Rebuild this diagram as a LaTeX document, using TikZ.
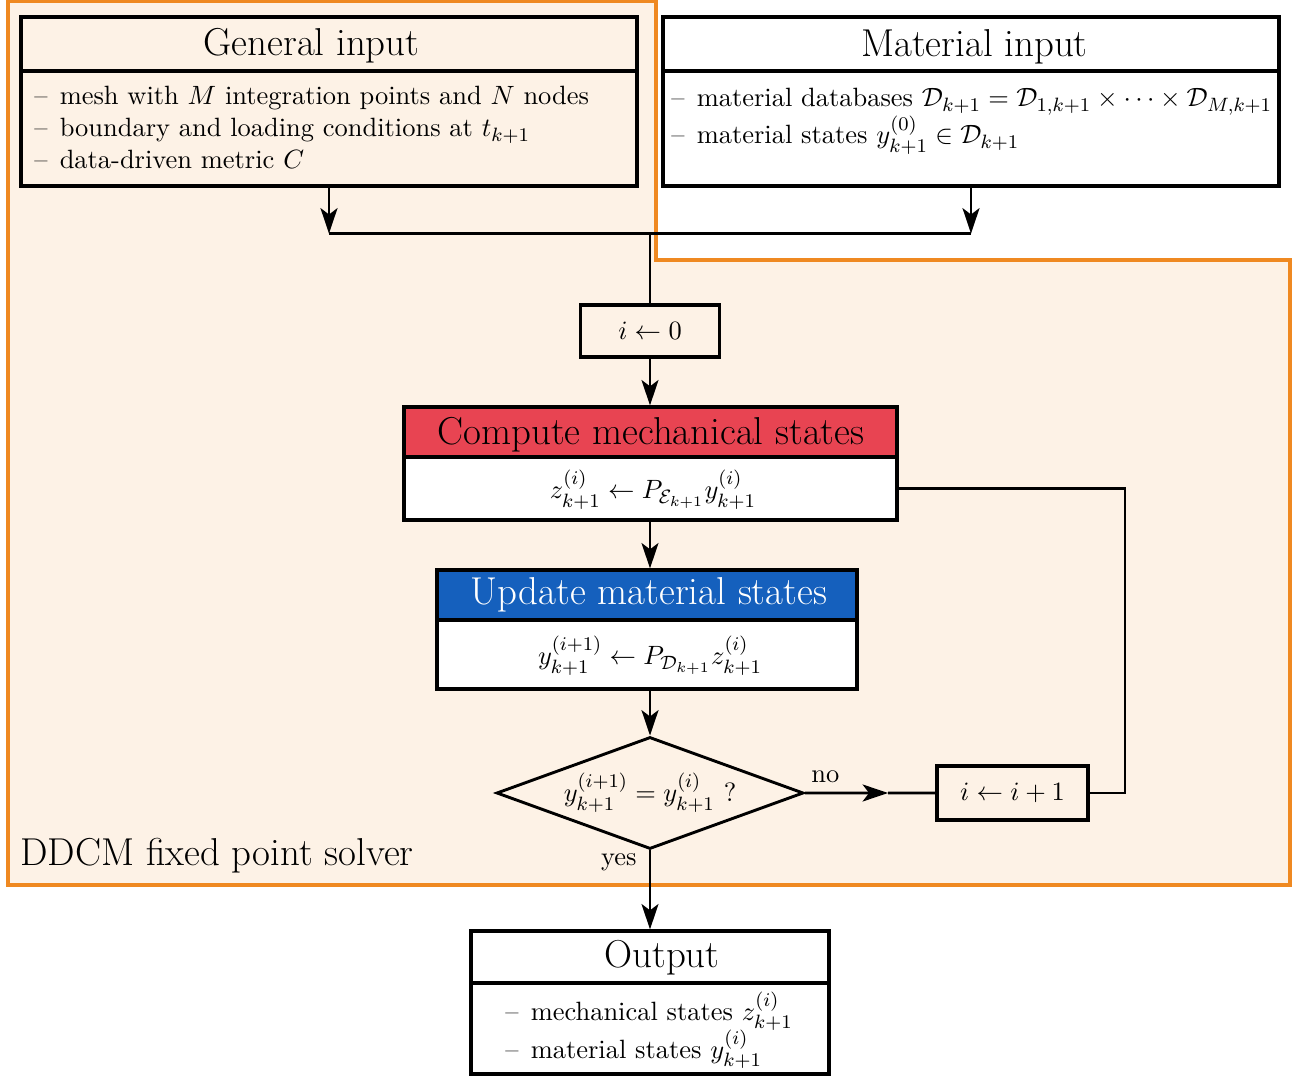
\documentclass[tikz,border=0pt]{standalone}
\usepackage{amsmath,amssymb}
\usetikzlibrary{shapes.geometric,arrows.meta,calc}
\definecolor{cream}{RGB}{253,242,230}
\definecolor{ddorange}{RGB}{239,137,33}
\definecolor{hdrred}{RGB}{232,68,82}
\definecolor{hdrblue}{RGB}{21,96,189}
\newcommand\pu{0.414pt}
\newcommand\dash{--\hspace{5pt}}
\begin{document}
\begin{tikzpicture}[x=0.414pt,y=-0.414pt,
  font=\fontsize{10.95}{13.6}\selectfont,
  frame/.style={draw=black,line width=1.3pt,inner sep=0pt},
  conn/.style={draw=black,line width=1.2pt},
  arr/.style={conn,-{Stealth[length=10.5pt,width=7pt,inset=2.6pt]}},
  ttl/.style={inner sep=0pt,anchor=base,font=\fontsize{16.1}{19}\selectfont},
  item/.style={inner sep=0pt,anchor=base west},
  lbl/.style={inner sep=0pt}]
\fill[white] (0,0) rectangle (1303,1077);
\useasboundingbox (0,0) rectangle (1303,1077);
% solver region
\draw[fill=cream,draw=ddorange,line width=1.4pt] (8,1.5) -- (656,1.5) -- (656,260) -- (1290,260) -- (1290,885) -- (8,885) -- cycle;
\node[ttl,anchor=base west] (ddcm) at (20,866) {DDCM fixed point solver};

% General input
\node[frame,minimum width=616*\pu,minimum height=54*\pu] (gih) at (329,44) {};
\node[frame,minimum width=616*\pu,minimum height=115*\pu] (gib) at (329,128.5) {};
\node[ttl] (git) at (311.5,56) {General input};
\node[item] (gi1) at (34,105) {\dash mesh with $M$ integration points and $N$ nodes};
\node[item] (gi2) at (34,137) {\dash boundary and loading conditions at $t_{k+1}$};
\node[item] (gi3) at (34,169) {\dash data-driven metric $C$};

% Material input
\node[frame,fill=white,minimum width=616*\pu,minimum height=54*\pu] (mih) at (971,44) {};
\node[frame,fill=white,minimum width=616*\pu,minimum height=115*\pu] (mib) at (971,128.5) {};
\node[ttl] (mit) at (974.5,57) {Material input};
\node[item] (mi1) at (671,107) {\dash material databases $\mathcal{D}_{k+1}=\mathcal{D}_{1,k+1}\times\cdots\times\mathcal{D}_{M,k+1}$};
\node[item] (mi2) at (671,144) {\dash material states $y^{(0)}_{k+1}\in\mathcal{D}_{k+1}$};

% junction
\coordinate (jg) at ($(gib.south)+(0,46)$);
\coordinate (jm) at ($(mib.south)+(0,46)$);
\draw[arr] (gib.south) -- (jg);
\draw[arr] (mib.south) -- (jm);
\draw[conn] (jg) -- (jm);

% i <- 0
\node[frame,minimum width=139*\pu,minimum height=52*\pu] (i0) at (650,331) {$i\leftarrow 0$};
\coordinate (j0) at (i0.north |- jg);
\draw[conn] (j0) -- (i0.north);

% Compute mechanical states
\node[frame,fill=hdrred,minimum width=493*\pu,minimum height=50*\pu] (cmh) at (650.5,432) {};
\node[frame,fill=white,minimum width=493*\pu,minimum height=63*\pu] (cmb) at (650.5,488.5) {};
\node[ttl] (cmt) at (651,445) {Compute mechanical states};
\node[lbl] (cmx) at (653,490) {$z^{(i)}_{k+1}\leftarrow P_{\mathcal{E}_{k+1}}y^{(i)}_{k+1}$};
\draw[arr] (i0.south) -- (i0.south |- cmh.north);

% Update material states
\node[frame,fill=hdrblue,minimum width=420*\pu,minimum height=50*\pu] (umh) at (647,595) {};
\node[frame,fill=white,minimum width=420*\pu,minimum height=69*\pu] (umb) at (647,654.5) {};
\node[ttl,text=white] (umt) at (649,605) {Update material states};
\node[lbl] (umx) at (650,656) {$y^{(i+1)}_{k+1}\leftarrow P_{\mathcal{D}_{k+1}}z^{(i)}_{k+1}$};
\draw[arr] (i0.south |- cmb.south) -- (i0.south |- umh.north);

% decision
\node[diamond,draw=black,line width=1.2pt,aspect=2.74,inner sep=0pt,minimum width=307*\pu,minimum height=112*\pu] (dia) at (650,793) {$y^{(i+1)}_{k+1}=y^{(i)}_{k+1}\ ?$};
\draw[arr] (dia.north |- umb.south) -- (dia.north);

% i <- i+1
\node[frame,minimum width=151*\pu,minimum height=54*\pu] (ii) at (1012.5,793) {$i\leftarrow i+1$};
\coordinate (nt) at ($(dia.east)!0.637!(ii.west)$);
\draw[arr] (dia.east) -- (nt);
\draw[conn] (nt) -- (ii.west);
\node[lbl,anchor=base west] (no) at (811,783) {no};
\coordinate (fb) at (1125,488.5);
\draw[conn] (ii.east) -| (fb) -- (cmb.east);

% Output
\node[frame,fill=white,minimum width=358*\pu,minimum height=52*\pu] (oh) at (650,957) {};
\node[frame,fill=white,minimum width=358*\pu,minimum height=91*\pu] (ob) at (650,1028.5) {};
\node[ttl] (ot) at (662,967) {Output};
\node[item] (o1) at (505,1020) {\dash mechanical states $z^{(i)}_{k+1}$};
\node[item] (o2) at (505,1058) {\dash material states $y^{(i)}_{k+1}$};
\draw[arr] (dia.south) -- (dia.south |- oh.north);
\node[lbl,anchor=base east] (yes) at (637,866) {yes};
\end{tikzpicture}
\end{document}
